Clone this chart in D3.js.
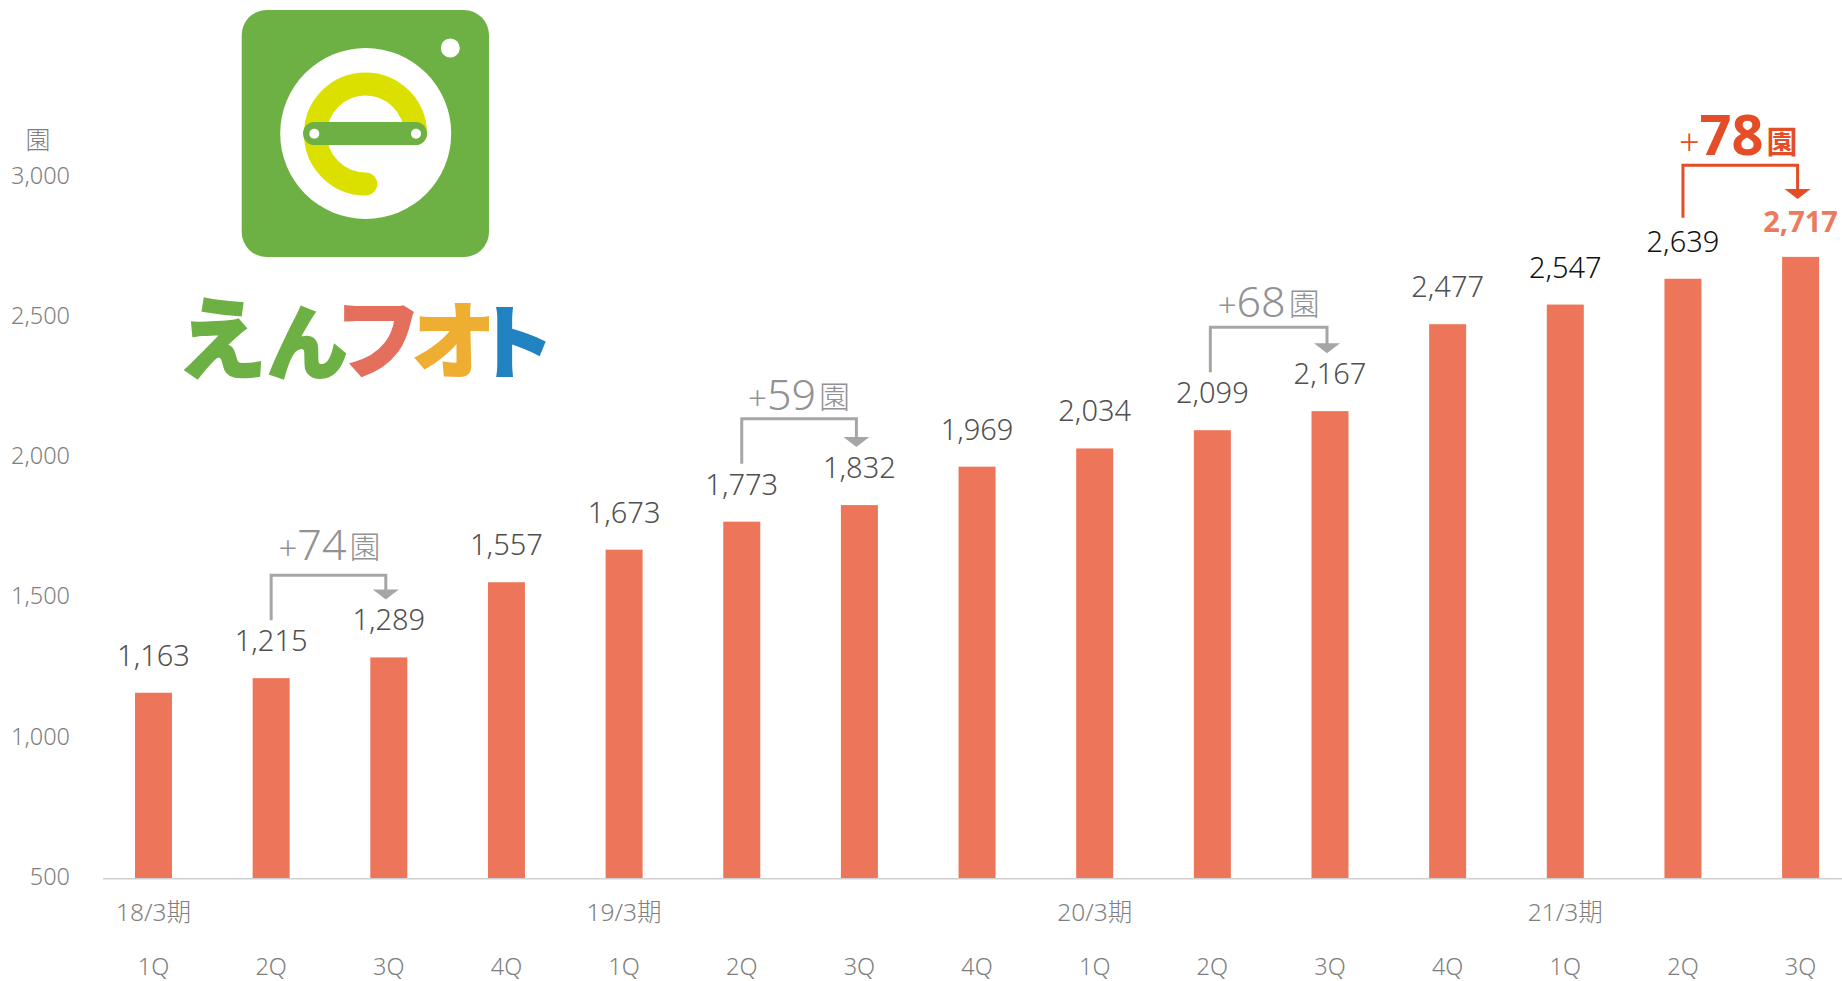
<!DOCTYPE html>
<html lang="ja"><head><meta charset="utf-8">
<script src="https://cdnjs.cloudflare.com/ajax/libs/d3/7.8.5/d3.min.js"></script>
<style>
html,body{margin:0;padding:0;background:#fff;overflow:hidden}
svg{display:block}
text{font-family:"Noto Sans","Noto Sans CJK JP",sans-serif;font-weight:300}
.domain{display:none}
.tick line{display:none}
</style></head><body><svg id="c" width="1842" height="981"></svg>
<script>
const quarters=["1Q","2Q","3Q","4Q","1Q","2Q","3Q","4Q","1Q","2Q","3Q","4Q","1Q","2Q","3Q"];
const periods=["18/3期","","","","19/3期","","","","20/3期","","","","21/3期","",""];
const values=[1163,1215,1289,1557,1673,1773,1832,1969,2034,2099,2167,2477,2547,2639,2717];
const yTicks=[500,1000,1500,2000,2500,3000];
const labelColors=["#505050","#505050","#505050","#505050","#505050","#505050","#505050","#505050","#505050","#505050","#505050","#505050","#111111","#111111","#ec7a5e"];
const annoFrom=[1,5,9,13];
const annoTo=[2,6,10,14];
const annoDelta=[74,59,68,78];

const svg=d3.select("#c");
const base=878.7, top3000=177.5;
const y=d3.scaleLinear().domain([500,3000]).range([base,top3000]);
const step=117.65;
const x=d3.scaleBand().domain(d3.range(values.length)).range([153.5-step/2,153.5+step*14.5]).paddingInner(1-37/step).paddingOuter((1-37/step)/2);
const cx=i=>x(i)+x.bandwidth()/2;

// logo
const logo=svg.append("g");
const G="#6db044";
logo.append("rect").attr("x",241.7).attr("y",10).attr("width",247.3).attr("height",247).attr("rx",25).attr("fill",G);
logo.append("circle").attr("cx",365.7).attr("cy",133.5).attr("r",85.5).attr("fill","#fff");
logo.append("circle").attr("cx",450.3).attr("cy",48).attr("r",9.5).attr("fill","#fff");
logo.append("path").attr("d","M415.5,133.5A50,50 0 1 0 365.7,184").attr("fill","none").attr("stroke","#dce000").attr("stroke-width",23).attr("stroke-linecap","round");
logo.append("rect").attr("x",303).attr("y",122).attr("width",124).attr("height",23).attr("rx",11.5).attr("fill",G);
[314.3,416].forEach(c=>logo.append("circle").attr("cx",c).attr("cy",133.7).attr("r",5).attr("fill","#fff"));
const brand=[["え",222,G,88],["ん",307,G,80],["フ",378,"#e36f5c",86],["オ",453.5,"#eeae32",82],["ト",514,"#2183c1",79]];
logo.selectAll("text.b").data(brand).join("text").attr("class","b")
 .attr("x",d=>d[1]).attr("y",d=>378-d[3]*0.08).attr("text-anchor","middle")
 .style("font-family",'"Noto Sans CJK JP"').style("font-weight",700).style("font-size",d=>d[3]+"px")
 .attr("fill",d=>d[2]).attr("stroke",d=>d[2]).attr("stroke-width",4).text(d=>d[0]);

// axes
svg.append("g").attr("transform","translate(70,0)").call(d3.axisLeft(y).tickValues(yTicks).tickFormat(d3.format(",")).tickSize(0).tickPadding(0))
 .selectAll("text").attr("fill","#7f7f7f").style("font-size","23.5px").style("font-family",'"Noto Sans","Noto Sans CJK JP"').attr("dy","0.24em");
svg.append("text").attr("x",38).attr("y",149).attr("text-anchor","middle").attr("fill","#7f7f7f").style("font-size","25px").text("園");

svg.append("g").selectAll("rect").data(values).join("rect")
 .attr("x",(d,i)=>x(i)).attr("width",x.bandwidth()).attr("y",d=>y(d)).attr("height",d=>base-y(d)).attr("fill","#ed7559");
svg.append("line").attr("x1",103).attr("x2",1842).attr("y1",base).attr("y2",base).attr("stroke","#d0d0d0").attr("stroke-width",1.5);

const ax1=svg.append("g").attr("transform",`translate(0,${base})`).call(d3.axisBottom(x).tickFormat(i=>periods[i]).tickSize(0).tickPadding(0));
ax1.selectAll("text").attr("y",42).attr("dy",0).attr("fill","#7f7f7f").style("font-size","24.5px");
const ax2=svg.append("g").attr("transform",`translate(0,${base})`).call(d3.axisBottom(x).tickFormat(i=>quarters[i]).tickSize(0).tickPadding(0));
ax2.selectAll("text").attr("y",96).attr("dy",0).attr("fill","#7f7f7f").style("font-size","23.5px");

// value labels
svg.append("g").selectAll("text").data(values).join("text")
 .attr("x",(d,i)=>cx(i)).attr("y",(d,i)=>y(d)-(i===14?25:27)).attr("text-anchor","middle")
 .attr("fill",(d,i)=>labelColors[i]).style("font-size","29px").style("font-weight",(d,i)=>i===14?700:300)
 .text(d3.format(","));

// annotations
const annoGap=[15,9,10,10];
annoFrom.forEach((f,k)=>{
  const t=annoTo[k], hi=k===3, col=hi?"#e44d26":"#a6a6a6";
  const x1=cx(f)-(k===2?2:0), x2=cx(t)-3;
  const yb=y(values[f])-(hi?61:58), yt=y(values[f])-(hi?113.5:103), yTip=y(values[t])-58;
  svg.append("path").attr("d",d3.line()([[x1,yb],[x1,yt],[x2,yt],[x2,yTip-8]])).attr("fill","none").attr("stroke",col).attr("stroke-width",3);
  svg.append("path").attr("d",d3.line()([[x2-13,yTip-10],[x2+13,yTip-10],[x2,yTip]])+"Z").attr("fill",col);
  const lbl=svg.append("text").attr("x",(x1+x2)/2+(hi?-2:k===0?1:0)).attr("y",yt-annoGap[k]).attr("text-anchor","middle").attr("fill",hi?col:"#929292");
  lbl.append("tspan").style("font-size",hi?"36px":"33px").text("+");
  lbl.append("tspan").style("font-size",hi?"56px":"43px").style("font-weight",hi?700:300).text(annoDelta[k]);
  lbl.append("tspan").attr("dx",3).attr("dy",-2).style("font-size","31px").style("font-family",'"Noto Sans CJK JP"').style("font-weight",hi?700:300).text("園");
});
</script></body></html>
